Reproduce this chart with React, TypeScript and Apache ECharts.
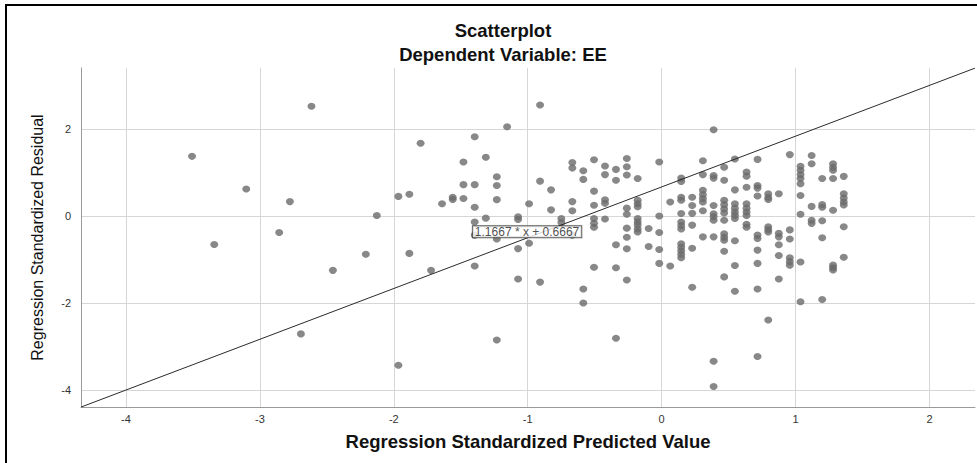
import React, { useEffect, useRef } from "react";
import * as echarts from "echarts";

// Regression Standardized Predicted Value (one entry per column of dots)
const predicted = [
  -3.507, -3.341, -3.102, -2.856, -2.776, -2.694, -2.615, -2.455, -2.209, -2.127,
  -1.966, -1.884, -1.8, -1.722, -1.64, -1.56, -1.48, -1.396, -1.313, -1.231,
  -1.154, -1.072, -0.99, -0.908, -0.826, -0.749, -0.667, -0.585, -0.505, -0.423,
  -0.341, -0.26, -0.179, -0.097, -0.018, 0.064, 0.146, 0.228, 0.308, 0.388,
  0.467, 0.547, 0.634, 0.716, 0.796, 0.875, 0.957, 1.037, 1.12, 1.199,
  1.28, 1.36,
];

// Regression Standardized Residual values for each predicted-value column
const residuals = [
  [1.37],
  [-0.655],
  [0.62],
  [-0.38],
  [0.33],
  [-2.71],
  [2.52],
  [-1.25],
  [-0.88],
  [0.01],
  [0.45, -3.43],
  [0.5, -0.86],
  [1.67],
  [-1.25],
  [0.28],
  [0.43, 0.38],
  [1.24, 0.72, 0.4],
  [1.82, 0.72, 0.2, -0.14, -0.44, -1.15],
  [1.35, -0.05],
  [0.9, 0.7, 0.375, -0.53, -2.85],
  [2.05],
  [-0.02, -0.08, -0.75, -1.45],
  [0.28, -0.625],
  [2.55, 0.8, -1.52],
  [0.6, 0.14],
  [-0.06, -0.15],
  [1.23, 1.1, 0.33, 0.12, -0.44],
  [1.04, 0.84, -1.68, -2.0],
  [1.29, 0.57, 0.245, -0.06, -0.17, -0.26, -1.18],
  [1.15, 0.95, 0.37, 0.29, -0.07],
  [1.07, 0.82, -0.66, -1.19, -2.81],
  [1.32, 1.13, 0.94, 0.18, 0.04, -0.28, -0.49, -0.755, -1.47],
  [0.86, 0.36, 0.28, 0.21, -0.06, -0.14, -0.21, -0.3, -0.37],
  [-0.29, -0.7],
  [1.24, 0.0, -0.38, -0.77, -1.09],
  [0.32, -1.15],
  [0.87, 0.79, 0.43, 0.36, 0.055, -0.14, -0.22, -0.3, -0.64, -0.72, -0.8, -0.88, -0.96],
  [0.43, 0.24, 0.06, -0.21, -0.74, -1.64],
  [1.27, 0.95, 0.59, 0.49, 0.4, 0.32, 0.12, -0.48],
  [1.98, 0.93, 0.87, 0.24, 0.05, -0.02, -0.1, -0.48, -3.34, -3.92],
  [1.12, 0.82, 0.36, 0.26, 0.16, 0.07, -0.1, -0.41, -0.49, -0.56, -0.81, -1.4],
  [1.31, 0.6, 0.28, 0.18, 0.09, 0.016, -0.06, -0.57, -1.14, -1.73],
  [1.01, 0.915, 0.66, 0.28, 0.18, 0.09, 0.01, -0.19, -0.26],
  [1.3, 0.7, 0.64, 0.46, -0.44, -0.52, -0.785, -1.09, -1.68, -3.23],
  [0.51, 0.43, 0.38, -0.25, -0.31, -0.37, -2.39],
  [0.51, -0.4, -0.48, -0.66, -0.91, -1.45],
  [1.41, -0.32, -0.53, -0.96, -1.05, -1.13],
  [1.14, 1.05, 0.95, 0.86, 0.74, 0.47, 0.04, -1.06, -1.97],
  [1.39, 1.2, 0.22, -0.1, -0.17],
  [0.86, 0.26, 0.2, -0.11, -0.5, -1.92],
  [1.2, 1.12, 1.05, 0.86, 0.13, -1.13, -1.19, -1.24],
  [0.91, 0.51, 0.41, 0.32, 0.25, -0.25, -0.95],
];

// Fit line shown on the chart
const fitSlope = 1.1667;
const fitIntercept = 0.6667;
const fitLabel = "1.1667 * x + 0.6667";
const fitLabelAt = [-1.005, -0.36];

// Axis ranges
const xRange = [-4.336, 2.34];
const yRange = [-4.39, 3.4];

const titleText = "Scatterplot";
const subtitleText = "Dependent Variable: EE";
const xName = "Regression Standardized Predicted Value";
const yName = "Regression Standardized Residual";

const FONT = "'Liberation Sans', Arial, sans-serif";

export default function App() {
  const ref = useRef<HTMLDivElement>(null);

  useEffect(() => {
    if (!ref.current) return;
    const chart = echarts.init(ref.current, undefined, { renderer: "svg" });

    const points: number[][] = [];
    predicted.forEach((x, i) => {
      residuals[i].forEach((y) => points.push([x, y]));
    });

    const fitLine = [
      [xRange[0], fitSlope * xRange[0] + fitIntercept],
      [xRange[1], fitSlope * xRange[1] + fitIntercept],
    ];

    chart.setOption({
      animation: false,
      backgroundColor: "#ffffff",
      textStyle: { fontFamily: FONT },
      title: [
        {
          text: titleText,
          left: 498,
          top: 16,
          textAlign: "center",
          textStyle: { fontSize: 18.5, fontWeight: "bold", color: "#111", fontFamily: FONT },
        },
        {
          text: subtitleText,
          left: 498,
          top: 40,
          textAlign: "center",
          textStyle: { fontSize: 18.5, fontWeight: "bold", color: "#111", fontFamily: FONT },
        },
      ],
      grid: { left: 81, right: 2, top: 68, bottom: 56, containLabel: false },
      xAxis: {
        type: "value",
        min: xRange[0],
        max: xRange[1],
        splitNumber: 6,
        name: xName,
        nameLocation: "middle",
        nameGap: 25,
        nameTextStyle: { fontSize: 18.5, fontWeight: "bold", color: "#111", fontFamily: FONT },
        axisLine: { show: true, onZero: false, lineStyle: { color: "#9a9a9a", width: 1 } },
        axisTick: { show: false },
        axisLabel: {
          showMinLabel: false,
          showMaxLabel: false,
          fontSize: 11,
          color: "#333",
          margin: 6,
          fontFamily: FONT,
        },
        splitLine: {
          show: true,
          showMinLine: false,
          showMaxLine: false,
          lineStyle: { color: "#d6d6d6", width: 1 },
        },
      },
      yAxis: {
        type: "value",
        min: yRange[0],
        max: yRange[1],
        splitNumber: 4,
        name: yName,
        nameLocation: "middle",
        nameRotate: 90,
        nameGap: 36,
        nameTextStyle: { fontSize: 16, color: "#111", fontFamily: FONT },
        axisLine: { show: true, onZero: false, lineStyle: { color: "#9a9a9a", width: 1 } },
        axisTick: { show: false },
        axisLabel: {
          showMinLabel: false,
          showMaxLabel: false,
          fontSize: 11,
          color: "#333",
          margin: 10,
          fontFamily: FONT,
        },
        splitLine: {
          show: true,
          showMinLine: false,
          showMaxLine: false,
          lineStyle: { color: "#d6d6d6", width: 1 },
        },
      },
      series: [
        {
          type: "scatter",
          data: points,
          symbol: "circle",
          symbolSize: [8, 7],
          itemStyle: { color: "#6a6a6a" },
          z: 2,
        },
        {
          type: "line",
          data: fitLine,
          symbol: "none",
          lineStyle: { color: "#2a2a2a", width: 1 },
          silent: true,
          z: 3,
        },
        {
          type: "scatter",
          data: [fitLabelAt],
          symbolSize: 0,
          silent: true,
          z: 4,
          label: {
            show: true,
            position: "inside",
            formatter: fitLabel,
            fontSize: 12,
            lineHeight: 11,
            color: "#222",
            fontFamily: FONT,
            backgroundColor: "#ffffff",
            borderColor: "#333",
            borderWidth: 1,
            padding: [0, 2, 0, 2],
          },
        },
      ],
      graphic: [
        {
          type: "line",
          shape: { x1: 6, y1: 4, x2: 6, y2: 463 },
          style: { stroke: "#000", lineWidth: 2 },
          silent: true,
        },
        {
          type: "line",
          shape: { x1: 5, y1: 5, x2: 977, y2: 5 },
          style: { stroke: "#000", lineWidth: 2 },
          silent: true,
        },
      ],
    });

    return () => chart.dispose();
  }, []);

  return (
    <div
      ref={ref}
      style={{ position: "absolute", left: 0, top: 0, width: 977, height: 463, background: "#fff" }}
    />
  );
}
